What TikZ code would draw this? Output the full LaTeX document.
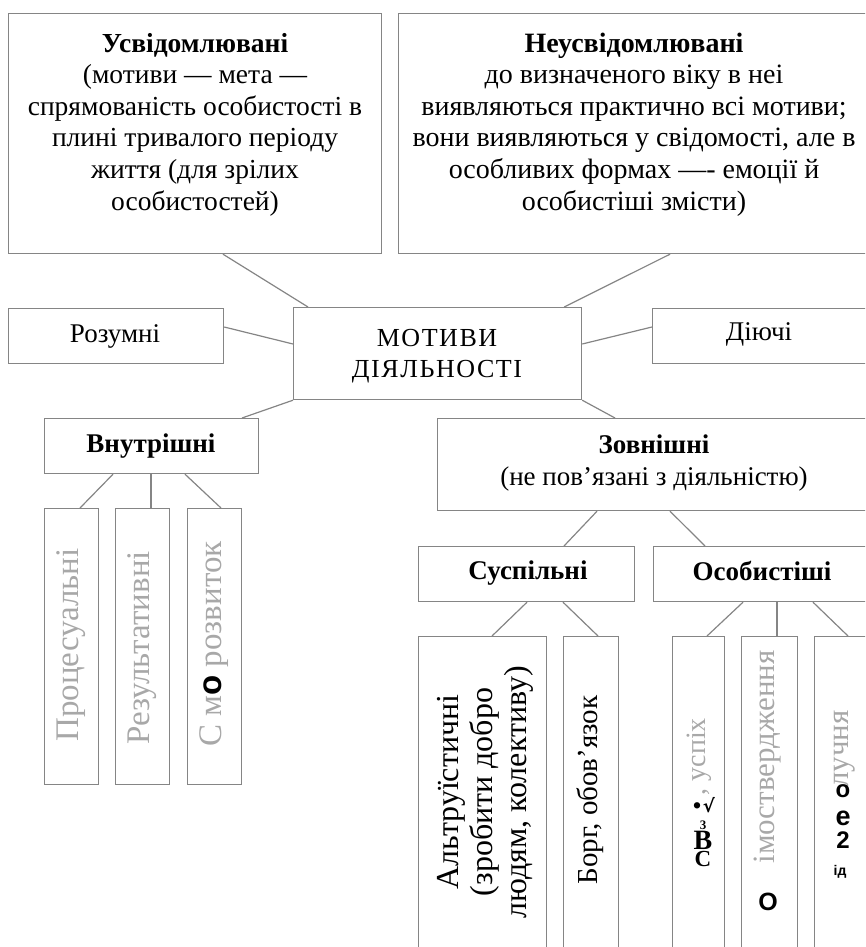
\documentclass[tikz,border=0pt]{standalone}
\usepackage{fontspec}
\setmainfont{Liberation Serif}
\newfontfamily\sansbold{Liberation Sans}
\newfontfamily\spacedfont[LetterSpace=6]{Liberation Serif}
\newfontfamily\dejavu{DejaVu Sans}
\usetikzlibrary{calc}
\definecolor{boxline}{HTML}{858585}
\definecolor{faded}{HTML}{A8A8A8}
\begin{document}
\begin{tikzpicture}[x=1pt,y=-1pt,
  box/.style={draw=boxline, line width=1.2pt, rectangle, inner sep=0pt, anchor=north west},
  link/.style={draw=boxline, line width=1.2pt},
  txt/.style={inner sep=0pt, font=\fontsize{27}{31.5}\selectfont, align=center, anchor=base},
  vtxt/.style={inner sep=0pt, font=\fontsize{29}{34}\selectfont, align=center, rotate=90},
  glyph/.style={inner sep=0pt, anchor=base, text=black, text depth=0pt},
  blk/.style={glyph, font=\sansbold\bfseries\fontsize{24}{24}\selectfont},
]
\useasboundingbox (0,0) rectangle (865,947);
\clip (0,0) rectangle (865,947);
% boxes
\node[box, minimum width=373pt, minimum height=240pt] (A) at (8,13) {};
\node[box, minimum width=470pt, minimum height=240pt] (B) at (398,13) {};
\node[box, minimum width=215pt, minimum height=55pt] (R) at (8,308) {};
\node[box, minimum width=288pt, minimum height=92pt] (M) at (293,307) {};
\node[box, minimum width=216pt, minimum height=55pt] (D) at (652,308) {};
\node[box, minimum width=214pt, minimum height=55pt] (V) at (44,418) {};
\node[box, minimum width=433pt, minimum height=92pt] (Z) at (437,418) {};
\node[box, minimum width=54pt, minimum height=276pt] (V1) at (44,508) {};
\node[box, minimum width=54pt, minimum height=276pt] (V2) at (115,508) {};
\node[box, minimum width=54pt, minimum height=276pt] (V3) at (187,508) {};
\node[box, minimum width=216pt, minimum height=55pt] (S) at (418,546) {};
\node[box, minimum width=217pt, minimum height=55pt] (O) at (653,546) {};
\node[box, minimum width=128pt, minimum height=330pt] (S1) at (418,636) {};
\node[box, minimum width=55pt, minimum height=330pt] (S2) at (563,636) {};
\node[box, minimum width=52pt, minimum height=330pt] (O1) at (672,636) {};
\node[box, minimum width=56pt, minimum height=330pt] (O2) at (741,636) {};
\node[box, minimum width=56pt, minimum height=330pt] (O3) at (814,636) {};
% connectors
\draw[link] ([xshift=215pt]A.south west) -- ([xshift=15pt]M.north west);
\draw[link] ([xshift=272pt]B.south west) -- ([xshift=-18pt]M.north east);
\draw[link] ([yshift=-19pt]R.north east) -- ([yshift=-37pt]M.north west);
\draw[link] ([yshift=-37pt]M.north east) -- ([yshift=-19pt]D.north west);
\draw[link] (M.south west) -- ([xshift=198pt]V.north west);
\draw[link] (M.south east) -- ([xshift=178pt]Z.north west);
\draw[link] ([xshift=69pt]V.south west) -- ([xshift=36pt]V1.north west);
\draw[link] ([xshift=107pt]V.south west) -- ([xshift=36pt]V2.north west);
\draw[link] ([xshift=141pt]V.south west) -- ([xshift=34pt]V3.north west);
\draw[link] ([xshift=160pt]Z.south west) -- ([xshift=146pt]S.north west);
\draw[link] ([xshift=233pt]Z.south west) -- ([xshift=52pt]O.north west);
\draw[link] ([xshift=109pt]S.south west) -- ([xshift=74pt]S1.north west);
\draw[link] ([xshift=145pt]S.south west) -- ([xshift=35pt]S2.north west);
\draw[link] ([xshift=90pt]O.south west) -- ([xshift=35pt]O1.north west);
\draw[link] ([xshift=124pt]O.south west) -- ([xshift=36pt]O2.north west);
\draw[link] ([xshift=160pt]O.south west) -- ([xshift=34pt]O3.north west);
% texts (anchor = baseline of last line)
\node[txt, font=\fontsize{27.5}{31.6}\selectfont] (tA) at (195,210) {\textbf{Усвідомлювані}\\(мотиви — мета —\\спрямованість особистості в\\плині тривалого періоду\\життя (для зрілих\\особистостей)};
\node[txt, font=\fontsize{28}{31.6}\selectfont] (tB) at (634,210) {\textbf{Неусвідомлювані}\\до визначеного віку в неі\\виявляються практично всі мотиви;\\вони виявляються у свідомості, але в\\особливих формах —- емоції й\\особистіші змісти)};
\node[txt] (tR) at (115,342) {Розумні};
\node[txt, font=\spacedfont\fontsize{26}{31}\selectfont] (tM) at (437,377) {МОТИВИ\\ДІЯЛЬНОСТІ};
\node[txt] (tD) at (759,340) {Діючі};
\node[txt] (tV) at (151,452) {\textbf{Внутрішні}};
\node[txt] (tZ) at (654,485) {\textbf{Зовнішні}\\(не пов'язані з діяльністю)};
\node[txt] (tS) at (528,579) {\textbf{Суспільні}};
\node[txt] (tO) at (762,580) {\textbf{Особистіші}};
% vertical texts
\node[vtxt, text=faded, font=\fontsize{33}{33}\selectfont] (tV1) at (71,645) {Процесуальні};
\node[vtxt, text=faded, font=\fontsize{33}{33}\selectfont] (tV2) at (142,648) {Результативні};
\node[vtxt, text=faded, font=\fontsize{33}{33}\selectfont] (tV3) at (214,644) {С м{\color{black}\sansbold\bfseries о} розвиток};
\node[vtxt, font=\fontsize{32}{34}\selectfont] (tS1) at (485,792) {Альтруїстичні\\(зробити добро\\людям, колективу)};
\node[vtxt] (tS2) at (590,790) {Борг, обов'язок};
\node[vtxt, text=faded, font=\fontsize{28}{28}\selectfont, anchor=east] (tO1) at (699,718) {, успіх};
\node[vtxt, text=faded, font=\fontsize{31}{31}\selectfont] (tO2) at (768,757) {імоствердження};
\node[vtxt, text=faded, font=\fontsize{31}{31}\selectfont, anchor=east] (tO3) at (845,710) {лучня};
% stray black glyphs
\node[glyph, text height=12pt, font=\dejavu\bfseries\fontsize{18}{18}\selectfont] (g1) at (703,812) {•√};
\node[glyph, text height=8pt, font=\bfseries\fontsize{13}{13}\selectfont] (g2) at (703,829) {3};
\node[glyph, text height=17pt, font=\bfseries\fontsize{28}{28}\selectfont] (g3) at (703,849) {В};
\node[glyph, text height=13pt, font=\bfseries\fontsize{23}{23}\selectfont] (g4) at (703,866) {С};
\node[blk, text height=18pt, font=\sansbold\bfseries\fontsize{25}{25}\selectfont] (g5) at (768,910) {О};
\node[blk, text height=12pt] (g6) at (843,797) {о};
\node[blk, text height=14pt, font=\sansbold\bfseries\fontsize{27}{27}\selectfont] (g7) at (843,825) {е};
\node[blk, text height=17pt] (g8) at (843,848) {2};
\node[blk, text height=10pt, font=\sansbold\bfseries\fontsize{14}{14}\selectfont] (g9) at (840,875) {ід};
\end{tikzpicture}
\end{document}
